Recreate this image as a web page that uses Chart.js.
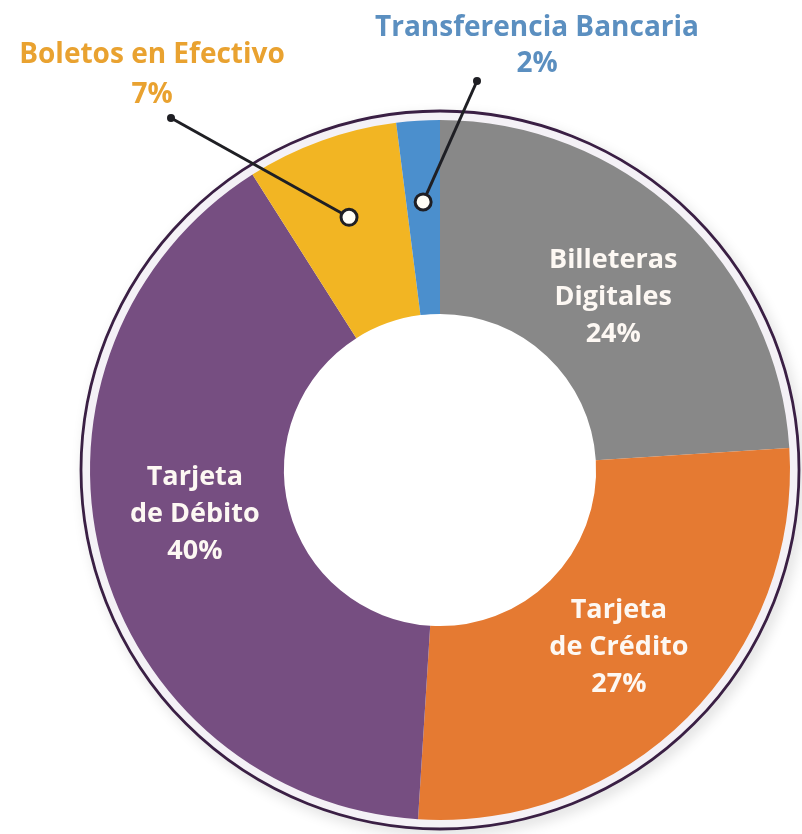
<!DOCTYPE html>
<html>
<head>
<meta charset="utf-8">
<script src="https://cdn.jsdelivr.net/npm/chart.js@4.4.1/dist/chart.umd.min.js"></script>
<style>
  html, body { margin: 0; padding: 0; background: #fff; }
  #wrap { position: relative; width: 802px; height: 834px; }
</style>
</head>
<body>
<div id="wrap"><canvas id="pagosChart"></canvas></div>
<script>
// Medios de pago (%), en el orden del gráfico empezando arriba y en sentido horario
const categorias = ['Billeteras Digitales', 'Tarjeta de Crédito', 'Tarjeta de Débito', 'Boletos en Efectivo', 'Transferencia Bancaria'];
const etiquetas = [['Billeteras', 'Digitales'], ['Tarjeta', 'de Crédito'], ['Tarjeta', 'de Débito'], ['Boletos en Efectivo'], ['Transferencia Bancaria']];
const valores = [24, 27, 40, 7, 2];
const colores = ['#888888', '#e57a32', '#764e81', '#f2b523', '#4b8fcd'];

const FONT = '"Open Sans", Lato, sans-serif';

// label styling / placement (not data)
const dentro = { 0: { dy: 12 }, 1: { dy: -2 }, 2: { dy: -19 } };
const fuera = {
    3: { x: 152, y: 55, lh: 40, color: '#e9a230', dot: [171, 118] },
    4: { x: 537, y: 28, lh: 36, color: '#5b8fc0', dot: [477, 81] }
};

const aroPlugin = {
    id: 'aro',
    beforeDatasetsDraw(chart) {
        const arc = chart.getDatasetMeta(0).data[0];
        if (!arc) return;
        const { x, y, outerRadius } = arc.getProps(['x', 'y', 'outerRadius'], true);
        const ctx = chart.ctx;
        ctx.save();
        // light band between the slices and the dark ring, with a soft shadow outside
        ctx.shadowColor = 'rgba(0,0,0,0.14)';
        ctx.shadowBlur = 14;
        ctx.shadowOffsetX = 4;
        ctx.shadowOffsetY = 5;
        ctx.beginPath();
        ctx.arc(x, y, outerRadius + 10, 0, Math.PI * 2);
        ctx.arc(x, y, outerRadius - 2, 0, Math.PI * 2, true);
        ctx.fillStyle = '#f4f1f6';
        ctx.fill('evenodd');
        ctx.shadowColor = 'transparent';
        ctx.beginPath();
        ctx.arc(x, y, outerRadius + 9, 0, Math.PI * 2);
        ctx.lineWidth = 2.8;
        ctx.strokeStyle = '#3a1f44';
        ctx.stroke();
        ctx.restore();
    }
};

const etiquetasPlugin = {
    id: 'etiquetas',
    afterDatasetsDraw(chart) {
        const ctx = chart.ctx;
        const meta = chart.getDatasetMeta(0);
        ctx.save();
        ctx.textAlign = 'center';
        ctx.textBaseline = 'middle';
        meta.data.forEach((arc, i) => {
            const p = arc.getProps(['x', 'y', 'startAngle', 'endAngle', 'innerRadius', 'outerRadius'], true);
            const pct = valores[i] + '%';
            if (dentro[i]) {
                const c = arc.getCenterPoint();
                const lineas = etiquetas[i].concat([pct]);
                const lh = 37;
                const y0 = c.y + dentro[i].dy - (lineas.length - 1) * lh / 2;
                ctx.fillStyle = '#fdf8f3';
                ctx.font = 'bold 27px ' + FONT;
                lineas.forEach((t, k) => ctx.fillText(t, c.x, y0 + k * lh));
            } else {
                const f = fuera[i];
                const mid = (p.startAngle + p.endAngle) / 2;
                const r = p.innerRadius + (p.outerRadius - p.innerRadius) * 0.58;
                const cx = p.x + Math.cos(mid) * r;
                const cy = p.y + Math.sin(mid) * r;
                // leader line
                ctx.strokeStyle = '#1f1f24';
                ctx.lineWidth = 3;
                ctx.beginPath();
                ctx.moveTo(f.dot[0], f.dot[1]);
                ctx.lineTo(cx, cy);
                ctx.stroke();
                ctx.fillStyle = '#1f1f24';
                ctx.beginPath();
                ctx.arc(f.dot[0], f.dot[1], 4, 0, Math.PI * 2);
                ctx.fill();
                ctx.beginPath();
                ctx.arc(cx, cy, 8, 0, Math.PI * 2);
                ctx.fillStyle = '#fffdf5';
                ctx.fill();
                ctx.lineWidth = 3;
                ctx.stroke();
                // text
                ctx.fillStyle = f.color;
                ctx.font = 'bold 28px ' + FONT;
                ctx.fillText(etiquetas[i][0], f.x, f.y);
                ctx.fillText(pct, f.x, f.y + f.lh);
            }
        });
        ctx.restore();
    }
};

const ctx = document.getElementById('pagosChart').getContext('2d');
new Chart(ctx, {
    type: 'doughnut',
    data: {
        labels: categorias,
        datasets: [{
            data: valores,
            backgroundColor: colores,
            borderWidth: 0,
            radius: 350,
            cutout: 157
        }]
    },
    options: {
        responsive: true,
        maintainAspectRatio: false,
        animation: false,
        rotation: 0,
        layout: { padding: { left: 88, right: 10, top: 116, bottom: 10 } },
        plugins: {
            legend: { display: false },
            tooltip: { enabled: false }
        }
    },
    plugins: [aroPlugin, etiquetasPlugin]
});
</script>
</body>
</html>
